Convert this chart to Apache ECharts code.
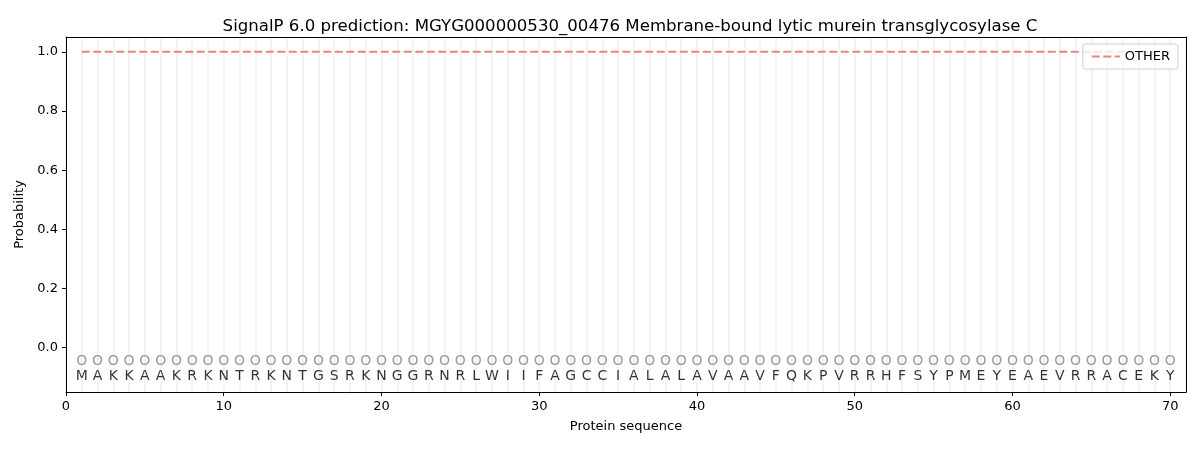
<!DOCTYPE html>
<html>
<head>
<meta charset="utf-8">
<script src="https://cdn.jsdelivr.net/npm/echarts@6/dist/echarts.min.js"></script>
<style>
  html, body { margin: 0; padding: 0; background: #fff; }
  #chart { width: 1200px; height: 450px; }
</style>
</head>
<body>
<div id="chart"></div>
<script>
// residues of the sequence, one letter each
const residues = 'MAKKAAKRKNTRKNTGSRKNGGRNRLWIIFAGCCIALALAVAAVFQKPVRRHFSYPMEYEAEVRRACEKY'.split('');
// predicted label per residue
const predLabels = 'OOOOOOOOOOOOOOOOOOOOOOOOOOOOOOOOOOOOOOOOOOOOOOOOOOOOOOOOOOOOOOOOOOOOOO'.split('');
// probability of OTHER at each position
const otherProb = [
  1.0, 1.0, 1.0, 1.0, 1.0, 1.0, 1.0, 1.0, 1.0, 1.0,
  1.0, 1.0, 1.0, 1.0, 1.0, 1.0, 1.0, 1.0, 1.0, 1.0,
  1.0, 1.0, 1.0, 1.0, 1.0, 1.0, 1.0, 1.0, 1.0, 1.0,
  1.0, 1.0, 1.0, 1.0, 1.0, 1.0, 1.0, 1.0, 1.0, 1.0,
  1.0, 1.0, 1.0, 1.0, 1.0, 1.0, 1.0, 1.0, 1.0, 1.0,
  1.0, 1.0, 1.0, 1.0, 1.0, 1.0, 1.0, 1.0, 1.0, 1.0,
  1.0, 1.0, 1.0, 1.0, 1.0, 1.0, 1.0, 1.0, 1.0, 1.0
];
const yTicks = [0.0, 0.2, 0.4, 0.6, 0.8, 1.0];
const xTicks = [0, 10, 20, 30, 40, 50, 60, 70];

const font = 'DejaVu Sans';
const chart = echarts.init(document.getElementById('chart'));

const textSeries = (labels, y, color) => ({
  type: 'scatter',
  symbolSize: 0,
  silent: true,
  data: labels.map((t, i) => [i + 1, y, t]),
  label: {
    show: true,
    position: 'inside',
    formatter: p => p.data[2],
    color: color,
    fontFamily: font,
    fontSize: 14
  }
});

chart.setOption({
  animation: false,
  title: {
    text: 'SignalP 6.0 prediction: MGYG000000530_00476 Membrane-bound lytic murein transglycosylase C',
    left: 625,
    top: 13,
    textAlign: 'center',
    textStyle: { fontFamily: font, fontSize: 16.6, fontWeight: 'normal', color: '#000' }
  },
  legend: {
    right: 22,
    top: 44,
    padding: [6, 8, 6, 8],
    backgroundColor: 'rgba(255,255,255,0.8)',
    borderColor: '#d0d0d0',
    borderWidth: 1,
    borderRadius: 3,
    itemWidth: 28,
    itemHeight: 10,
    itemStyle: { color: 'transparent', borderWidth: 0 },
    textStyle: { fontFamily: font, fontSize: 13, color: '#000' },
    data: ['OTHER']
  },
  grid: { left: 66, right: 14, top: 37, bottom: 58 },
  xAxis: [{
    type: 'value',
    min: 0,
    max: 71,
    name: 'Protein sequence',
    nameLocation: 'middle',
    nameGap: 28,
    nameTextStyle: { fontFamily: font, fontSize: 13, color: '#000' },
    axisLine: { show: true, onZero: false, lineStyle: { color: '#000', width: 1 } },
    axisTick: { show: true, length: 4, lineStyle: { color: '#000' }, customValues: xTicks },
    axisLabel: { fontFamily: font, fontSize: 13, color: '#000', customValues: xTicks },
    splitLine: { show: false }
  }, {
    type: 'value',
    position: 'top',
    min: 0,
    max: 71,
    interval: 1,
    axisLine: { show: true, onZero: false, lineStyle: { color: '#000', width: 1 } },
    axisTick: { show: false },
    axisLabel: { show: false },
    splitLine: { show: true, lineStyle: { color: '#efefef', width: 1.5 } }
  }],
  yAxis: [{
    type: 'value',
    min: -0.15,
    max: 1.05,
    name: 'Probability',
    nameLocation: 'middle',
    nameGap: 37,
    nameTextStyle: { fontFamily: font, fontSize: 13, color: '#000' },
    axisLine: { show: true, onZero: false, lineStyle: { color: '#000', width: 1 } },
    axisTick: { show: true, length: 4, lineStyle: { color: '#000' }, customValues: yTicks },
    axisLabel: {
      fontFamily: font, fontSize: 13, color: '#000',
      customValues: yTicks,
      formatter: v => v.toFixed(1)
    },
    splitLine: { show: false }
  }, {
    type: 'value',
    position: 'right',
    min: -0.15,
    max: 1.05,
    axisLine: { show: true, onZero: false, lineStyle: { color: '#000', width: 1 } },
    axisTick: { show: false },
    axisLabel: { show: false },
    splitLine: { show: false }
  }],
  series: [
    {
      name: 'OTHER',
      type: 'line',
      symbol: 'none',
      data: otherProb.map((v, i) => [i + 1, v]),
      lineStyle: { color: '#f08080', width: 2, type: [8, 3.5] },
      itemStyle: { color: '#f08080' }
    },
    textSeries(predLabels, -0.047, '#808080'),
    textSeries(residues, -0.098, '#000')
  ]
});
</script>
</body>
</html>
